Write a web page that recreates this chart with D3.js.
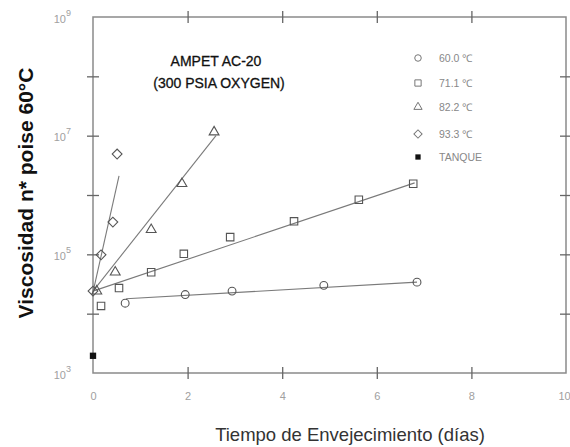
<!DOCTYPE html>
<html>
<head>
<meta charset="utf-8">
<script src="https://cdn.jsdelivr.net/npm/d3@7"></script>
<style>
  body { margin: 0; background: #fff; }
  svg { display: block; }
</style>
</head>
<body>
<div id="chart"></div>
<script>
// data
const circDays = [0.68, 1.95, 2.94, 4.88, 6.85];
const circVisc = [15000, 21000, 24000, 30000, 34000];
const sqDays = [0.17, 0.55, 1.23, 1.92, 2.90, 4.25, 5.62, 6.77];
const sqVisc = [13500, 27000, 50000, 102000, 195000, 360000, 830000, 1550000];
const triDays = [0.08, 0.47, 1.23, 1.88, 2.56];
const triVisc = [24000, 50000, 260000, 1550000, 11500000];
const diaDays = [0, 0.17, 0.42, 0.51];
const diaVisc = [24000, 98000, 350000, 4900000];
const tankDays = [0];
const tankVisc = [1950];

// fitted lines (end points)
const fitCirc = { days: [0.7, 6.85], visc: [17800, 34000] };
const fitSq = { days: [0, 6.8], visc: [24000, 1600000] };
const fitTri = { days: [0, 2.6], visc: [24000, 10000000] };
const fitDia = { days: [0, 0.55], visc: [23000, 2100000] };

const xTicks = [0, 2, 4, 6, 8, 10];
const yTicks = [1e3, 1e4, 1e5, 1e6, 1e7, 1e8, 1e9];
const yLabelExps = [3, 5, 7, 9];

const legendLabels = ["60.0 \u2103", "71.1 \u2103", "82.2 \u2103", "93.3 \u2103", "TANQUE"];

const width = 570, height = 447;
const margin = { top: 17, right: 4, bottom: 74, left: 93 };
const iw = width - margin.left - margin.right;
const ih = height - margin.top - margin.bottom;

const svg = d3.select("#chart").append("svg")
    .attr("width", width)
    .attr("height", height)
    .style("font-family", "Arial, 'Liberation Sans', sans-serif");

const g = svg.append("g").attr("transform", `translate(${margin.left},${margin.top})`);

const x = d3.scaleLinear().domain([0, 10]).range([0, iw]);
const y = d3.scaleLog().domain([1e3, 1e9]).range([ih, 0]);

const axisColor = "#8a8a8a";
const tickColor = "#a0a0a0";

// frame
g.append("rect")
    .attr("width", iw).attr("height", ih)
    .attr("fill", "none").attr("stroke", axisColor).attr("stroke-width", 1.5);

function crossTicks(sel, vertical) {
    sel.select(".domain").remove();
    sel.selectAll(".tick line")
        .attr("stroke", "#666").attr("stroke-width", 1.3);
    if (vertical) sel.selectAll(".tick line").attr("x1", -6).attr("x2", 6);
    else sel.selectAll(".tick line").attr("y1", -6).attr("y2", 6);
}

// bottom
const xAxis = g.append("g").attr("transform", `translate(0,${ih})`)
    .call(d3.axisBottom(x).tickValues(xTicks).tickSize(6).tickPadding(13).tickFormat(d3.format("d")));
crossTicks(xAxis, false);
xAxis.selectAll(".tick text").attr("fill", tickColor).style("font-size", "11px");
xAxis.selectAll(".tick").filter(d => d === 0 || d === 10).select("line").remove();
xAxis.selectAll(".tick").filter(d => d === 10).select("text").attr("dx", -2);

// top
const xTop = g.append("g")
    .call(d3.axisTop(x).tickValues(xTicks.filter(d => d > 0 && d < 10)).tickSize(6).tickFormat(""));
crossTicks(xTop, false);

// left
const yAxis = g.append("g")
    .call(d3.axisLeft(y).tickValues(yTicks).tickSize(6).tickFormat(""));
crossTicks(yAxis, true);
yAxis.selectAll(".tick").filter(d => d === 1e3 || d === 1e9).select("line").remove();
yAxis.selectAll(".tick").each(function (d) {
    const e = Math.round(Math.log10(d));
    if (!yLabelExps.includes(e)) return;
    const t = d3.select(this).append("text")
        .attr("x", -22).attr("y", 5)
        .attr("text-anchor", "end")
        .attr("fill", tickColor)
        .style("font-size", "11px");
    t.append("tspan").text("10");
    t.append("tspan").attr("dy", -7).style("font-size", "9px").text(e);
});

// right
const yRight = g.append("g").attr("transform", `translate(${iw},0)`)
    .call(d3.axisRight(y).tickValues(yTicks.slice(1, -1)).tickSize(6).tickFormat(""));
crossTicks(yRight, true);

// fitted lines
const line = d3.line().x(d => x(d[0])).y(d => y(d[1]));
[fitCirc, fitSq, fitTri, fitDia].forEach(f => {
    g.append("path")
        .datum(f.days.map((d, i) => [d, f.visc[i]]))
        .attr("d", line)
        .attr("fill", "none")
        .attr("stroke", "#7a7a7a")
        .attr("stroke-width", 1.1);
});

// markers
const markerStroke = "#555";
const series = [
    { days: circDays, visc: circVisc, type: d3.symbolCircle, size: 48, rot: 0, fill: "#fff" },
    { days: sqDays, visc: sqVisc, type: d3.symbolSquare, size: 56, rot: 0, fill: "#fff" },
    { days: triDays, visc: triVisc, type: d3.symbolTriangle, size: 42, rot: 0, fill: "#fff" },
    { days: diaDays, visc: diaVisc, type: d3.symbolSquare, size: 48, rot: 45, fill: "#fff" },
    { days: tankDays, visc: tankVisc, type: d3.symbolSquare, size: 40, rot: 0, fill: "#111" }
];

series.forEach(s => {
    g.selectAll(null)
        .data(s.days.map((d, i) => [d, s.visc[i]]))
        .enter()
        .append("path")
        .attr("d", d3.symbol().type(s.type).size(s.size))
        .attr("transform", d => `translate(${x(d[0])},${y(d[1])}) rotate(${s.rot})`)
        .attr("fill", s.fill === "#fff" ? "none" : s.fill)
        .attr("stroke", s.fill === "#fff" ? markerStroke : "none")
        .attr("stroke-width", 1.1);
});

// legend
const legendY = [58, 83, 107, 134, 157];
const legend = svg.append("g");
series.forEach((s, i) => {
    legend.append("path")
        .attr("d", d3.symbol().type(s.type).size(s.size * 0.7))
        .attr("transform", `translate(418,${legendY[i]}) rotate(${s.rot})`)
        .attr("fill", s.fill === "#fff" ? "none" : s.fill)
        .attr("stroke", s.fill === "#fff" ? "#777" : "none")
        .attr("stroke-width", 1);
    legend.append("text")
        .attr("x", 439).attr("y", legendY[i] + 4)
        .attr("fill", "#888")
        .style("font-size", "10.5px")
        .text(legendLabels[i]);
});

// annotation
svg.append("text")
    .attr("x", 216).attr("y", 66)
    .attr("text-anchor", "middle")
    .attr("fill", "#111")
    .attr("stroke", "#111").attr("stroke-width", 0.3)
    .style("font-size", "14px")
    .text("AMPET AC-20");
svg.append("text")
    .attr("x", 219).attr("y", 88)
    .attr("text-anchor", "middle")
    .attr("fill", "#111")
    .attr("stroke", "#111").attr("stroke-width", 0.3)
    .style("font-size", "14px")
    .text("(300 PSIA OXYGEN)");

// axis titles
svg.append("text")
    .attr("transform", `translate(33,193) rotate(-90)`)
    .attr("text-anchor", "middle")
    .attr("fill", "#111")
    .style("font-size", "21px")
    .style("font-weight", "bold")
    .text("Viscosidad n* poise 60°C");

svg.append("text")
    .attr("x", 350).attr("y", 441)
    .attr("text-anchor", "middle")
    .attr("fill", "#333")
    .style("font-size", "18.5px")
    .text("Tiempo de Envejecimiento (días)");
</script>
</body>
</html>
